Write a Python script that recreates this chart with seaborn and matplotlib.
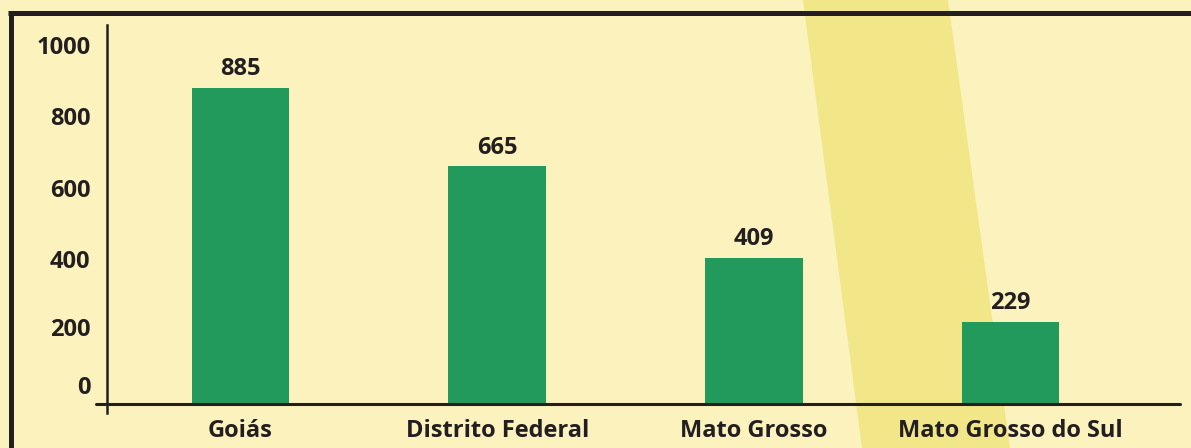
import matplotlib
matplotlib.use("Agg")
import matplotlib.pyplot as plt
import matplotlib.transforms as mtransforms
from matplotlib.patches import Polygon
from matplotlib.lines import Line2D
import seaborn as sns
import pandas as pd

categories = ["Goiás", "Distrito Federal", "Mato Grosso", "Mato Grosso do Sul"]
values = [885, 665, 409, 229]
y_ticks = [0, 200, 400, 600, 800, 1000]

BG = "#FBF2BD"
STRIPE = "#F2E788"
GREEN = "#229A5C"
DARK = "#231F20"

sns.set_theme(style="white")
plt.rcParams["font.family"] = ["Open Sans", "DejaVu Sans"]

W, H = 1191, 448
fig = plt.figure(figsize=(W / 100, H / 100), dpi=100, facecolor=BG)

# background axes spanning whole figure, in pixel coordinates
bg = fig.add_axes([0, 0, 1, 1], zorder=-1)
bg.set_xlim(0, W)
bg.set_ylim(H, 0)
bg.axis("off")
bg.add_patch(Polygon([(803, 0), (948, 0), (1010, 448), (862, 448)], closed=True,
                     facecolor=STRIPE, edgecolor="none"))

left, right = 107 / W, 1180 / W
top, bottom = 1 - 25 / H, 1 - 413 / H
ax = fig.add_axes([left, bottom, right - left, top - bottom], zorder=1)
ax.patch.set_alpha(0)

df = pd.DataFrame({"estado": categories, "valor": values})
sns.barplot(data=df, x="estado", y="valor", color=GREEN, width=0.38,
            saturation=1, linewidth=0, ax=ax, zorder=3)

ax.set_xlim(-0.52, 3.66)
ax.set_ylim(-25, 1061)

for sp in ["top", "right", "bottom"]:
    ax.spines[sp].set_visible(False)
ax.spines["left"].set_color(DARK)
ax.spines["left"].set_linewidth(1.8)

ax.axhline(0, xmin=-0.01, xmax=1, color=DARK, lw=2.2, clip_on=False, zorder=4)

ax.set_xlabel("")
ax.set_ylabel("")
ax.set_yticks(y_ticks)
ax.set_yticklabels([str(v) for v in y_ticks])
ax.tick_params(axis="y", length=0, pad=12, labelsize=17, labelcolor=DARK)
ax.tick_params(axis="x", length=0, pad=4, labelsize=17, labelcolor=DARK)
for lab in ax.get_yticklabels() + ax.get_xticklabels():
    lab.set_fontweight("bold")

# nudge the lower y labels up like in the reference
offsets = {"0": 19, "200": 6}
for lab in ax.get_yticklabels():
    dy = offsets.get(lab.get_text(), 2)
    lab.set_transform(lab.get_transform() + mtransforms.ScaledTranslation(0, dy / 100, fig.dpi_scale_trans))

for i, v in enumerate(values):
    ax.annotate(str(v), (i, v), xytext=(0, 5), textcoords="offset points",
                ha="center", va="bottom", fontsize=17, fontweight="bold", color=DARK)

# frame lines (top and left), drawn on top
fig.add_artist(Line2D([8 / W, 1.0], [1 - 13 / H, 1 - 13 / H], color=DARK, lw=3.6,
                      transform=fig.transFigure, solid_capstyle="butt", zorder=5))
fig.add_artist(Line2D([10.5 / W, 10.5 / W], [1 - 11 / H, 0], color=DARK, lw=3.6,
                      transform=fig.transFigure, solid_capstyle="butt", zorder=5))

fig.savefig("out.png", dpi=100, facecolor=BG)
